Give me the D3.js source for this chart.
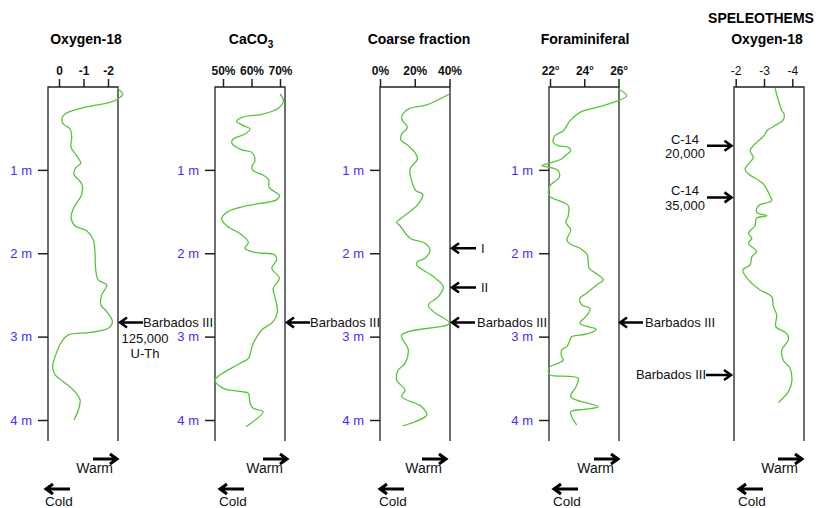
<!DOCTYPE html>
<html>
<head>
<meta charset="utf-8">
<script src="https://cdn.jsdelivr.net/npm/d3@7"></script>
<style>
  body { margin: 0; background: #fff; }
  svg { font-family: Arial, "Liberation Sans", sans-serif; }
</style>
</head>
<body>
<svg id="chart" width="817" height="508"></svg>
<script>
(function () {
  "use strict";

  // depth in m, value on the panel's own axis
  const depthTicks = [1, 2, 3, 4];

  const oxygenTicks = [0, -1, -2];
  const oxygenCore = [
    [0.02, -2.38], [0.09, -2.6], [0.15, -2.4], [0.2, -1.95], [0.23, -1.4], [0.28, -0.65],
    [0.33, -0.24], [0.39, -0.11], [0.45, -0.18], [0.51, -0.45], [0.61, -0.52], [0.73, -0.49],
    [0.83, -0.72], [0.92, -0.89], [0.97, -0.69], [1.05, -0.61], [1.17, -0.93], [1.29, -0.93],
    [1.45, -0.61], [1.57, -0.49], [1.67, -0.65], [1.73, -1.13], [1.84, -1.4], [2.0, -1.47],
    [2.2, -1.5], [2.32, -1.6], [2.38, -1.95], [2.5, -1.74], [2.62, -1.71], [2.7, -1.95],
    [2.82, -2.18], [2.9, -2.01], [2.95, -1.27], [2.98, -0.38], [3.06, -0.11], [3.24, 0.16],
    [3.36, 0.26], [3.46, 0.16], [3.54, -0.18], [3.66, -0.65], [3.76, -0.86], [3.88, -0.79],
    [4.0, -0.61]
  ];

  const carbonateTicks = [50, 60, 70];
  const carbonateCore = [
    [0.09, 70.0], [0.17, 71.2], [0.26, 69.4], [0.33, 64.1], [0.37, 56.6], [0.42, 54.8],
    [0.46, 56.6], [0.51, 59.5], [0.57, 57.7], [0.63, 53.6], [0.68, 53.1], [0.76, 56.6],
    [0.79, 60.1], [0.89, 61.2], [0.96, 60.1], [1.01, 60.6], [1.06, 64.0], [1.12, 66.0],
    [1.21, 66.2], [1.31, 69.8], [1.36, 68.8], [1.43, 58.3], [1.51, 51.3], [1.59, 49.5],
    [1.67, 51.3], [1.78, 56.6], [1.87, 58.9], [1.94, 57.7], [1.99, 61.2], [2.02, 68.2],
    [2.08, 68.8], [2.18, 67.1], [2.3, 69.8], [2.42, 67.6], [2.52, 68.2], [2.7, 69.1],
    [2.82, 67.6], [2.92, 63.6], [3.08, 60.6], [3.26, 58.9], [3.32, 56.0], [3.52, 47.2],
    [3.62, 50.1], [3.66, 56.6], [3.68, 58.9], [3.8, 59.5], [3.86, 60.6], [3.9, 64.1],
    [4.08, 58.1]
  ];

  const coarseTicks = [0, 20, 40];
  const coarseCore = [
    [0.09, 39.9], [0.15, 34.5], [0.22, 26.9], [0.26, 17.3], [0.33, 13.1], [0.39, 12.5],
    [0.49, 15.7], [0.57, 12.5], [0.64, 11.9], [0.7, 15.7], [0.79, 20.1], [0.87, 21.5],
    [0.99, 17.3], [1.13, 18.2], [1.25, 20.7], [1.29, 24.6], [1.41, 22.0], [1.53, 15.4],
    [1.63, 9.6], [1.67, 11.5], [1.82, 17.3], [1.88, 25.9], [1.96, 28.8], [2.06, 25.9],
    [2.1, 21.5], [2.14, 21.1], [2.28, 30.7], [2.4, 36.4], [2.52, 33.6], [2.62, 27.8],
    [2.7, 30.7], [2.84, 39.9], [2.98, 12.5], [3.16, 16.3], [3.32, 14.4], [3.4, 10.5],
    [3.52, 9.6], [3.64, 14.4], [3.72, 12.5], [3.84, 24.0], [3.94, 26.9], [4.07, 13.1]
  ];

  const foramTicks = [22, 24, 26];
  const foramCore = [
    [0.03, 25.99], [0.11, 26.48], [0.17, 25.99], [0.24, 24.92], [0.31, 23.75], [0.41, 23.17],
    [0.53, 22.78], [0.59, 22.29], [0.67, 22.19], [0.71, 22.48], [0.73, 23.07], [0.77, 23.21],
    [0.83, 22.88], [0.87, 22.68], [0.91, 22.1], [0.95, 21.52], [0.97, 22.0], [1.01, 22.48],
    [1.09, 22.54], [1.19, 22.0], [1.31, 21.96], [1.39, 22.78], [1.43, 23.07], [1.55, 23.07],
    [1.63, 22.93], [1.72, 23.21], [1.84, 22.98], [1.89, 23.17], [1.94, 23.75], [2.02, 24.18],
    [2.18, 24.29], [2.26, 24.82], [2.32, 25.11], [2.38, 24.73], [2.48, 24.14], [2.54, 23.75],
    [2.62, 23.85], [2.66, 24.34], [2.74, 24.18], [2.84, 23.75], [2.88, 24.24], [2.91, 24.69],
    [2.95, 24.44], [2.98, 23.85], [3.0, 23.27], [3.06, 23.13], [3.12, 22.98], [3.16, 22.68],
    [3.24, 22.68], [3.28, 22.78], [3.32, 22.48], [3.36, 22.0], [3.42, 21.9], [3.46, 22.0],
    [3.5, 23.65], [3.6, 23.52], [3.72, 23.21], [3.84, 24.82], [3.87, 24.14], [3.9, 23.21],
    [3.96, 23.27], [4.06, 23.56]
  ];

  const speleoTicks = [-2, -3, -4];
  const speleoCore = [
    [0.02, -3.39], [0.17, -3.51], [0.29, -3.63], [0.33, -3.71], [0.4, -3.68], [0.48, -3.33],
    [0.53, -3.1], [0.59, -3.0], [0.69, -2.68], [0.77, -2.51], [0.85, -2.62], [0.93, -2.45],
    [0.99, -2.33], [1.05, -2.45], [1.11, -2.74], [1.17, -2.98], [1.31, -3.21], [1.37, -3.27],
    [1.43, -2.8], [1.51, -2.74], [1.55, -3.1], [1.58, -2.74], [1.67, -2.68], [1.76, -2.45],
    [1.82, -2.57], [1.88, -2.45], [1.98, -2.74], [2.04, -2.57], [2.14, -2.51], [2.2, -2.25],
    [2.32, -2.45], [2.44, -2.86], [2.52, -3.27], [2.64, -3.33], [2.74, -3.45], [2.88, -3.42],
    [2.96, -3.8], [3.04, -3.86], [3.16, -3.63], [3.28, -3.68], [3.38, -3.92], [3.54, -3.98],
    [3.66, -3.86], [3.79, -3.51]
  ];

  // marker depths (m) for the dating arrows
  const barbadosDepth = 2.83;
  const terraceDepths = [1.94, 2.41];
  const speleoC14Depths = [0.71, 1.33];
  const speleoBarbadosDepth = 3.46;

  const TOP = 87, BOTTOM = 441;
  const LINE = "#58c43a";
  const BLUE = "#3f2dff";

  const svg = d3.select("#chart");
  const y = d3.scaleLinear().domain([0, 4]).range([86.5, 420]);

  const panels = [
    { title: "Oxygen-18", tx: 86, left: 48, right: 118, domain: [0, -2], range: [59, 108],
      ticks: oxygenTicks, fmt: (d) => String(d), data: oxygenCore, depthAxis: true,
      warmEnd: 117, coldStart: 46 },
    { title: "CaCO", sub: "3", tx: 251, left: 215, right: 285, domain: [50, 70], range: [223, 280],
      ticks: carbonateTicks, fmt: (d) => d + "%", data: carbonateCore, depthAxis: true,
      warmEnd: 287, coldStart: 220 },
    { title: "Coarse fraction", tx: 419, left: 380, right: 450, domain: [0, 40], range: [380, 449.5],
      ticks: coarseTicks, fmt: (d) => d + "%", data: coarseCore, depthAxis: true,
      warmEnd: 446, coldStart: 380 },
    { title: "Foraminiferal", tx: 585, left: 549, right: 619, domain: [22, 26], range: [550, 618.5],
      ticks: foramTicks, fmt: (d) => String(d), degree: true, data: foramCore, depthAxis: true,
      warmEnd: 618, coldStart: 554 },
    { title: "Oxygen-18", tx: 767, left: 734, right: 804, domain: [-2, -4], range: [735.7, 792.3],
      ticks: speleoTicks, fmt: (d) => String(d), light: true, data: speleoCore, depthAxis: false,
      warmEnd: 802, coldStart: 739 }
  ];

  function arrow(g, x1, x2, yy, w) {
    const dir = x2 > x1 ? 1 : -1;
    g.append("path")
      .attr("d", `M${x1},${yy}H${x2}M${x2 - dir * 7},${yy - 5}L${x2},${yy}L${x2 - dir * 7},${yy + 5}`)
      .attr("fill", "none")
      .attr("stroke", "#000")
      .attr("stroke-width", w || 2.5);
  }

  function label(g, x, yy, txt, anchor, size) {
    return g.append("text")
      .attr("x", x).attr("y", yy)
      .attr("text-anchor", anchor || "start")
      .attr("font-size", size || 13)
      .attr("fill", "#111")
      .text(txt);
  }

  panels.forEach((p) => {
    const g = svg.append("g");
    const x = d3.scaleLinear().domain(p.domain).range(p.range);

    // title
    const t = g.append("text")
      .attr("x", p.tx).attr("y", 44)
      .attr("text-anchor", "middle")
      .attr("font-size", 14).attr("font-weight", "bold")
      .text(p.title);
    if (p.sub) {
      t.append("tspan").attr("font-size", 10).attr("dy", 4).text(p.sub);
    }

    // box (open at the bottom)
    g.append("path")
      .attr("d", `M${p.left},${BOTTOM}V${TOP}H${p.right}V${BOTTOM}`)
      .attr("fill", "none").attr("stroke", "#222").attr("stroke-width", 1.3);

    // top value axis
    const ax = g.append("g")
      .attr("transform", `translate(0,${TOP})`)
      .call(d3.axisTop(x).tickValues(p.ticks).tickSize(8).tickPadding(4).tickFormat(p.fmt));
    ax.select(".domain").remove();
    ax.selectAll("line").attr("stroke", "#222").attr("stroke-width", 1.5);
    ax.selectAll("text")
      .attr("font-size", 12)
      .attr("font-weight", p.light ? "normal" : "bold")
      .attr("fill", "#111")
      .attr("font-family", "Arial, 'Liberation Sans', sans-serif");
    if (p.degree) {
      ax.selectAll("text").append("tspan").attr("font-size", 7).attr("dy", -5).text("o");
    }

    // depth axis
    if (p.depthAxis) {
      const ay = g.append("g")
        .attr("transform", `translate(${p.left},0)`)
        .call(d3.axisLeft(y).tickValues(depthTicks).tickSize(10).tickPadding(6).tickFormat((d) => d + " m"));
      ay.select(".domain").remove();
      ay.selectAll("line").attr("stroke", "#222").attr("stroke-width", 1.5);
      ay.selectAll("text")
        .attr("font-size", 13).attr("fill", BLUE)
        .attr("font-family", "Arial, 'Liberation Sans', sans-serif");
    }

    // record
    g.append("path")
      .datum(p.data)
      .attr("fill", "none")
      .attr("stroke", LINE)
      .attr("stroke-width", 1.3)
      .attr("d", d3.line()
        .x((d) => x(d[1]))
        .y((d) => y(d[0]))
        .curve(d3.curveCatmullRom.alpha(0.5)));

    // warm / cold legend
    arrow(g, p.warmEnd - 24, p.warmEnd, 459, 3);
    label(g, p.warmEnd - 4, 473, "Warm", "end", 14);
    arrow(g, p.coldStart + 24, p.coldStart, 489, 3);
    label(g, p.coldStart - 1, 505.5, "Cold", "start", 13.5);
  });

  const ann = svg.append("g");

  // Oxygen-18 core: Barbados III
  const yb = y(barbadosDepth);
  arrow(ann, 143, 120, yb);
  label(ann, 143, yb + 4.5, "Barbados III");
  label(ann, 145, yb + 21, "125,000", "middle");
  label(ann, 145, yb + 36, "U-Th", "middle");

  // CaCO3
  arrow(ann, 310, 287, yb);
  label(ann, 310, yb + 4.5, "Barbados III");

  // Coarse fraction
  ["I", "II"].forEach((s, i) => {
    const yy = y(terraceDepths[i]);
    arrow(ann, 476, 452, yy);
    label(ann, 481, yy + 4.5, s);
  });
  arrow(ann, 475, 452, yb);
  label(ann, 477, yb + 4.5, "Barbados III");

  // Foraminiferal
  arrow(ann, 643, 620, yb);
  label(ann, 645, yb + 4.5, "Barbados III");

  // Speleothems
  svg.append("text")
    .attr("x", 761).attr("y", 23)
    .attr("text-anchor", "middle")
    .attr("font-size", 14).attr("font-weight", "bold")
    .text("SPELEOTHEMS");
  ["20,000", "35,000"].forEach((s, i) => {
    const yy = y(speleoC14Depths[i]);
    arrow(ann, 707, 731.5, yy);
    label(ann, 685, yy - 2, "C-14", "middle");
    label(ann, 685, yy + 12.5, s, "middle");
  });
  const ys = y(speleoBarbadosDepth);
  arrow(ann, 706, 731, ys);
  label(ann, 706, ys + 4.5, "Barbados III", "end");
})();
</script>
</body>
</html>
